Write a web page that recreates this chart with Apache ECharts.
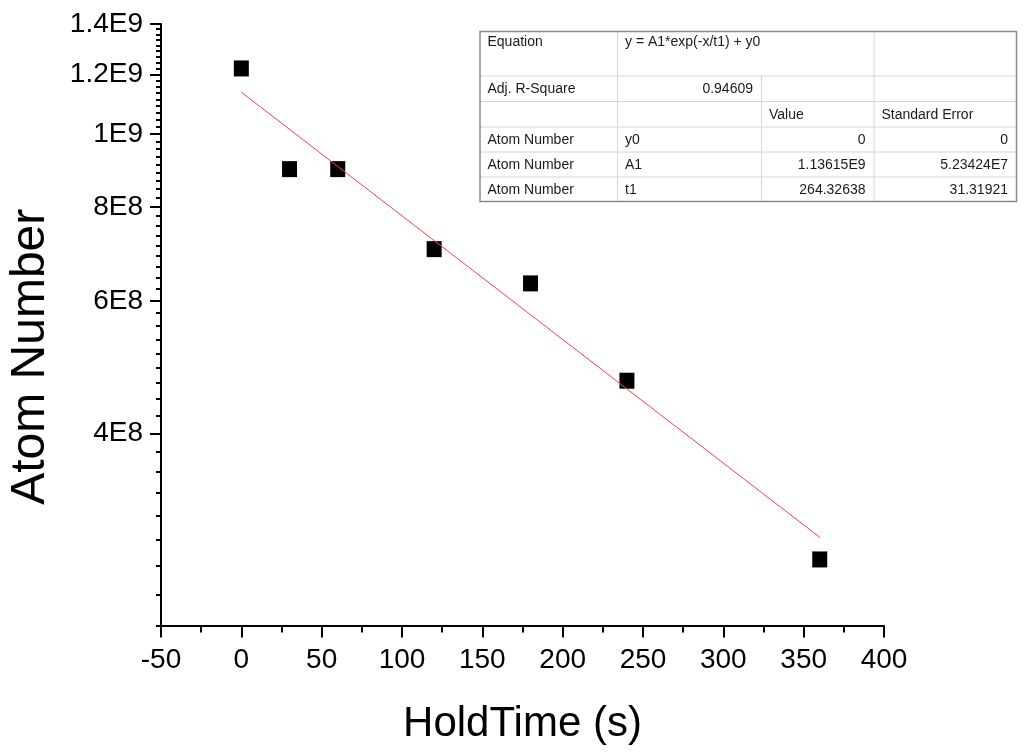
<!DOCTYPE html>
<html>
<head>
<meta charset="utf-8">
<script src="https://cdn.jsdelivr.net/npm/echarts@6/dist/echarts.min.js"></script>
<style>
html,body{margin:0;padding:0;background:#fff;}
#chart{width:1024px;height:754px;}
</style>
</head>
<body>
<div id="chart"></div>
<script>
// ---- data ----
var holdTime = [0, 30, 60, 120, 180, 240, 360];
var atomNumber = [1.222e9, 8.98e8, 8.98e8, 7.03e8, 6.33e8, 4.70e8, 2.72e8];
var fitX = [0, 360];
var fitY = [1.13615e9, 2.911e8];
var yMajorTicks = [4e8, 6e8, 8e8, 1e9, 1.2e9, 1.4e9];
var yTickLabels = ['4E8', '6E8', '8E8', '1E9', '1.2E9', '1.4E9'];
var yMin = 2.2222e8, yMax = 1.4e9;
var xMin = -50, xMax = 400, xStep = 50;
var tableRows = [
  ['Equation', 'y = A1*exp(-x/t1) + y0', '', ''],
  ['Adj. R-Square', '0.94609', '', ''],
  ['', '', 'Value', 'Standard Error'],
  ['Atom Number', 'y0', '0', '0'],
  ['Atom Number', 'A1', '1.13615E9', '5.23424E7'],
  ['Atom Number', 't1', '264.32638', '31.31921']
];
var tableAlign = [
  ['left', 'left', 'left', 'left'],
  ['left', 'right', 'left', 'left'],
  ['left', 'left', 'left', 'left'],
  ['left', 'left', 'right', 'right'],
  ['left', 'left', 'right', 'right'],
  ['left', 'left', 'right', 'right']
];

// minor tick positions on the log y axis (9 sub-intervals per major step)
var yMinorTicks = [];
for (var i = -8; i <= 45; i++) {
  if (i % 9 !== 0) yMinorTicks.push(4e8 + i * 2e8 / 9);
}

var FONT = '"Liberation Sans", Arial, sans-serif';

// ---- table graphic ----
var colX = [480, 617.5, 761.5, 874, 1016.5];
var rowY = [31.5, 76, 101.5, 127, 152, 177, 201.5];
var graphics = [];
for (var r = 1; r < rowY.length - 1; r++) {
  graphics.push({type: 'line', shape: {x1: colX[0], y1: rowY[r], x2: colX[4], y2: rowY[r]},
    style: {stroke: '#d6d6d6', lineWidth: 1}});
}
graphics.push({type: 'line', shape: {x1: colX[1], y1: rowY[0], x2: colX[1], y2: rowY[6]}, style: {stroke: '#d6d6d6', lineWidth: 1}});
graphics.push({type: 'line', shape: {x1: colX[2], y1: rowY[1], x2: colX[2], y2: rowY[6]}, style: {stroke: '#d6d6d6', lineWidth: 1}});
graphics.push({type: 'line', shape: {x1: colX[3], y1: rowY[0], x2: colX[3], y2: rowY[6]}, style: {stroke: '#d6d6d6', lineWidth: 1}});
graphics.push({type: 'rect', shape: {x: colX[0], y: rowY[0], width: colX[4] - colX[0], height: rowY[6] - rowY[0]},
  style: {fill: 'none', stroke: '#8a8a8a', lineWidth: 1.5}});
tableRows.forEach(function (row, ri) {
  row.forEach(function (txt, ci) {
    if (!txt) return;
    var al = tableAlign[ri][ci];
    var x = al === 'left' ? colX[ci] + 7.5 : colX[ci + 1] - 8.5;
    var y = ri === 0 ? rowY[0] + 11 : (rowY[ri] + rowY[ri + 1]) / 2 + 0.5;
    graphics.push({type: 'text', x: x, y: y,
      style: {text: txt, fill: '#1a1a1a', font: '14px ' + FONT, textAlign: al, textVerticalAlign: 'middle'}});
  });
});

var chart = echarts.init(document.getElementById('chart'), null, {renderer: 'canvas'});
var option = {
  backgroundColor: '#ffffff',
  animation: false,
  grid: {left: 161, right: 140, top: 24, bottom: 128.5, containLabel: false, outerBoundsMode: 'none'},
  xAxis: {
    type: 'value', min: xMin, max: xMax, interval: xStep,
    name: 'HoldTime (s)', nameLocation: 'middle', nameGap: 78,
    nameTextStyle: {fontSize: 42, fontFamily: FONT, color: '#000'},
    axisLine: {show: true, onZero: false, lineStyle: {color: '#000', width: 2}},
    axisTick: {show: true, inside: false, length: 12, lineStyle: {color: '#000', width: 2}},
    minorTick: {show: true, splitNumber: 2, length: 7, lineStyle: {color: '#000', width: 2}},
    axisLabel: {fontSize: 28, fontFamily: FONT, color: '#000', margin: 21},
    splitLine: {show: false}, minorSplitLine: {show: false}
  },
  yAxis: [{
    type: 'log', min: yMin, max: yMax, logBase: 10,
    name: 'Atom Number', nameLocation: 'middle', nameGap: 106,
    nameTextStyle: {fontSize: 48, fontFamily: FONT, color: '#000', padding: [0, 64, 0, 0]},
    axisLine: {show: true, onZero: false, lineStyle: {color: '#000', width: 2}},
    axisTick: {show: true, inside: false, length: 11, customValues: yMajorTicks, lineStyle: {color: '#000', width: 2}},
    axisLabel: {
      fontSize: 28, fontFamily: FONT, color: '#000', margin: 18, customValues: yMajorTicks,
      formatter: function (v) {
        for (var k = 0; k < yMajorTicks.length; k++) {
          if (Math.abs(yMajorTicks[k] - v) / yMajorTicks[k] < 1e-6) return yTickLabels[k];
        }
        return '';
      }
    },
    splitLine: {show: false}
  }, {
    type: 'log', min: yMin, max: yMax, logBase: 10, position: 'left', offset: 0,
    axisLine: {show: false, onZero: false},
    axisTick: {show: true, inside: false, length: 5, customValues: yMinorTicks, lineStyle: {color: '#000', width: 2}},
    axisLabel: {show: false},
    splitLine: {show: false}
  }],
  series: [{
    type: 'line', name: 'fit', yAxisIndex: 0,
    data: fitX.map(function (x, i) { return [x, fitY[i]]; }),
    showSymbol: false, symbol: 'none',
    lineStyle: {color: '#ff4040', width: 1}, z: 3
  }, {
    type: 'scatter', name: 'Atom Number', yAxisIndex: 0,
    data: holdTime.map(function (x, i) { return [x, atomNumber[i]]; }),
    symbol: 'rect', symbolSize: [15, 16],
    itemStyle: {color: '#000', opacity: 1}, z: 2
  }],
  graphic: graphics
};
chart.setOption(option);
</script>
</body>
</html>
